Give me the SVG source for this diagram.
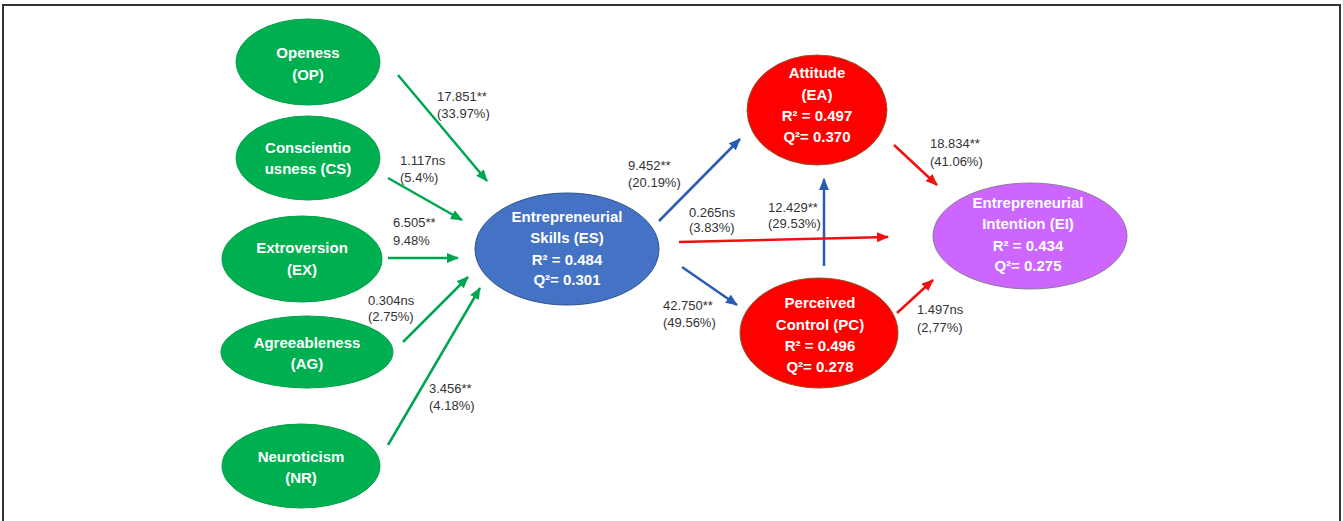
<svg xmlns="http://www.w3.org/2000/svg" width="1343" height="521" viewBox="0 0 1343 521">
<defs>
<style>
.nt{font-family:"Liberation Sans",Arial,sans-serif;font-weight:bold;font-size:15px;fill:#fff;text-anchor:middle}
.lb{font-family:"Liberation Sans",Arial,sans-serif;font-size:13px;fill:#333}
.g{fill:#00B050;stroke:#00A04A;stroke-width:1}
.gl{stroke:#00A550;stroke-width:2.5;fill:none;marker-end:url(#ag)}
.bl{stroke:#2A5BB5;stroke-width:2.5;fill:none;marker-end:url(#ab)}
.rl{stroke:#F01010;stroke-width:2.5;fill:none;marker-end:url(#ar)}
</style>
<marker id="ag" markerUnits="userSpaceOnUse" markerWidth="12" markerHeight="10" refX="11" refY="5" orient="auto"><path d="M0,0 L12,5 L0,10 Z" fill="#00A550"/></marker>
<marker id="ab" markerUnits="userSpaceOnUse" markerWidth="12" markerHeight="10" refX="11" refY="5" orient="auto"><path d="M0,0 L12,5 L0,10 Z" fill="#2A5BB5"/></marker>
<marker id="ar" markerUnits="userSpaceOnUse" markerWidth="12" markerHeight="10" refX="11" refY="5" orient="auto"><path d="M0,0 L12,5 L0,10 Z" fill="#F01010"/></marker>
</defs>
<rect width="1343" height="521" fill="#fff"/>
<path d="M3,530 V5 H1340 V530" fill="none" stroke="#333" stroke-width="2"/>

<g id="node-OP"><ellipse class="g" cx="308" cy="62" rx="72" ry="43"/><text class="nt" x="308" y="58">Openess</text><text class="nt" x="308" y="80">(OP)</text></g>
<g id="node-CS"><ellipse class="g" cx="308" cy="158" rx="72" ry="42"/><text class="nt" x="308" y="153">Conscientio</text><text class="nt" x="308" y="174">usness (CS)</text></g>
<g id="node-EX"><ellipse class="g" cx="302" cy="259" rx="80" ry="43"/><text class="nt" x="302" y="253">Extroversion</text><text class="nt" x="302" y="275">(EX)</text></g>
<g id="node-AG"><ellipse class="g" cx="307" cy="352" rx="86" ry="36"/><text class="nt" x="307" y="348">Agreeableness</text><text class="nt" x="307" y="369">(AG)</text></g>
<g id="node-NR"><ellipse class="g" cx="301" cy="466" rx="79" ry="42"/><text class="nt" x="301" y="462">Neuroticism</text><text class="nt" x="301" y="483">(NR)</text></g>
<g id="node-ES"><ellipse cx="567" cy="249" rx="92" ry="56" fill="#4472C4" stroke="#2F528F" stroke-width="1"/><text class="nt" x="567" y="222">Entrepreneurial</text><text class="nt" x="567" y="243">Skills (ES)</text><text class="nt" x="567" y="265">R² = 0.484</text><text class="nt" x="567" y="285">Q²= 0.301</text></g>
<g id="node-EA"><ellipse cx="817" cy="110" rx="70" ry="55" fill="#FF0000" stroke="#8B5A2B" stroke-width="1"/><text class="nt" x="817" y="78">Attitude</text><text class="nt" x="817" y="100">(EA)</text><text class="nt" x="817" y="121">R² = 0.497</text><text class="nt" x="817" y="142">Q²= 0.370</text></g>
<g id="node-PC"><ellipse cx="819" cy="333" rx="79" ry="55" fill="#FF0000" stroke="#8B5A2B" stroke-width="1"/><text class="nt" x="820" y="308">Perceived</text><text class="nt" x="820" y="330">Control (PC)</text><text class="nt" x="820" y="351">R² = 0.496</text><text class="nt" x="820" y="372">Q²= 0.278</text></g>
<g id="node-EI"><ellipse cx="1030" cy="236" rx="97" ry="53" fill="#CC66FF" stroke="#8E7A99" stroke-width="1"/><text class="nt" x="1028" y="208">Entrepreneurial</text><text class="nt" x="1028" y="229">Intention (EI)</text><text class="nt" x="1028" y="251">R² = 0.434</text><text class="nt" x="1028" y="271">Q²= 0.275</text></g>

<g id="connectors">
<line class="gl" x1="398" y1="75" x2="487" y2="181"/>
<line class="gl" x1="388" y1="178" x2="462" y2="220"/>
<line class="gl" x1="388" y1="258" x2="458" y2="258"/>
<line class="gl" x1="403" y1="342" x2="468" y2="277"/>
<line class="gl" x1="388" y1="445" x2="480" y2="288"/>
<line class="bl" x1="659" y1="221" x2="740" y2="139"/>
<line class="bl" x1="682" y1="267" x2="737" y2="305"/>
<line class="bl" x1="824" y1="266" x2="824" y2="179"/>
<line class="rl" x1="679" y1="242" x2="888" y2="237"/>
<line class="rl" x1="894" y1="145" x2="937" y2="185"/>
<line class="rl" x1="897" y1="313" x2="933" y2="280"/>
</g>

<g id="labels">
<text class="lb" x="437" y="101">17.851**</text><text class="lb" x="437" y="118">(33.97%)</text>
<text class="lb" x="400" y="165">1.117ns</text><text class="lb" x="400" y="182">(5.4%)</text>
<text class="lb" x="393" y="227">6.505**</text><text class="lb" x="393" y="245">9.48%</text>
<text class="lb" x="368" y="305">0.304ns</text><text class="lb" x="368" y="321">(2.75%)</text>
<text class="lb" x="429" y="393">3.456**</text><text class="lb" x="429" y="410">(4.18%)</text>
<text class="lb" x="628" y="170">9.452**</text><text class="lb" x="628" y="187">(20.19%)</text>
<text class="lb" x="689" y="217">0.265ns</text><text class="lb" x="689" y="232">(3.83%)</text>
<text class="lb" x="663" y="310">42.750**</text><text class="lb" x="663" y="327">(49.56%)</text>
<text class="lb" x="768" y="212">12.429**</text><text class="lb" x="768" y="228">(29.53%)</text>
<text class="lb" x="930" y="148">18.834**</text><text class="lb" x="930" y="166">(41.06%)</text>
<text class="lb" x="917" y="314">1.497ns</text><text class="lb" x="917" y="332">(2,77%)</text>
</g>
</svg>
